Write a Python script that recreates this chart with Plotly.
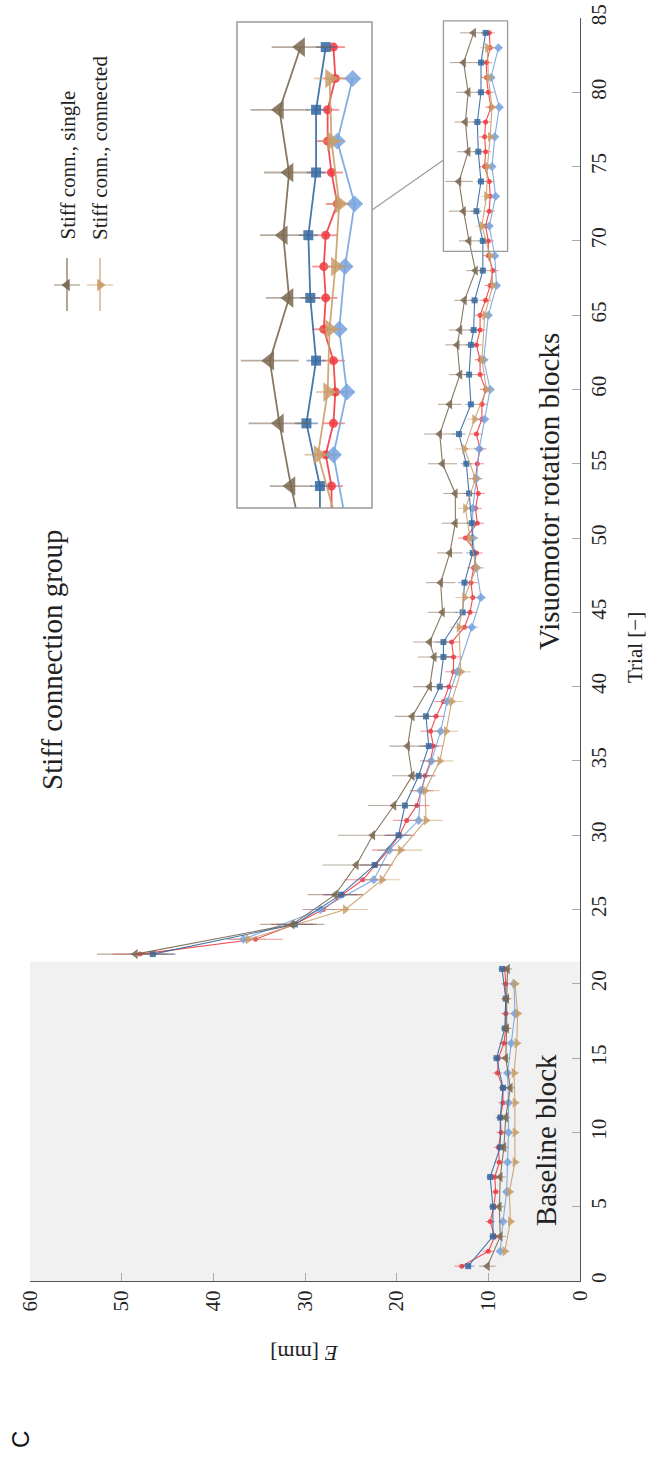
import plotly.graph_objects as go

W, H = 651, 1457

# ---------------- data ----------------
# four blocks of 21 trials (baseline 1-21, rotation blocks 22-42, 43-63, 64-84);
# "single" and "connected" trials alternate inside each block
single_trials = (list(range(1, 22, 2)) + list(range(22, 43, 2))
                 + list(range(43, 64, 2)) + list(range(64, 85, 2)))
connected_trials = (list(range(2, 21, 2)) + list(range(23, 42, 2))
                    + list(range(44, 63, 2)) + list(range(65, 84, 2)))
all_trials = list(range(1, 85))

# Stiff conn., single
stiff_single = [10.1, 8.7, 8.8, 8.7, 8.3, 8.1, 7.6, 8.1, 8.0, 8.0, 7.9,
                48.5, 31.4, 26.7, 24.4, 22.6, 20.3, 18.3, 18.8, 18.3, 16.4, 15.9,
                16.4, 15.0, 15.2, 14.2, 13.6, 13.6, 15.0, 15.3, 14.2, 13.1, 13.4,
                13.1, 12.6, 11.4, 12.1, 12.7, 13.2, 12.2, 12.5, 12.2, 12.7, 11.6]
stiff_single_err = [0.9, 0.6, 0.6, 0.6, 0.5, 0.5, 0.5, 0.5, 0.5, 0.5, 0.5,
                    4.2, 3.5, 3.0, 3.7, 3.8, 2.8, 2.2, 2.0, 1.9, 1.8, 1.8,
                    1.8, 1.6, 1.6, 1.4, 1.5, 1.3, 1.6, 1.7, 1.3, 1.2, 1.3,
                    1.2, 1.1, 1.0, 1.1, 1.6, 1.5, 1.2, 1.2, 1.3, 1.5, 1.5]

# Stiff conn., connected
stiff_conn = [8.2, 7.6, 7.7, 7.1, 7.1, 7.1, 7.2, 6.9, 6.8, 7.1,
              36.2, 25.6, 21.6, 19.6, 16.8, 16.9, 15.3, 14.6, 14.0, 13.0,
              13.2, 12.6, 11.3, 12.0, 12.5, 11.4, 12.6, 11.5, 10.2, 10.7,
              10.4, 9.5, 9.8, 10.7, 10.2, 10.1, 9.8, 9.6, 10.0, 10.1]
stiff_conn_err = [0.5, 0.5, 0.5, 0.5, 0.5, 0.5, 0.5, 0.5, 0.5, 0.5,
                  2.0, 2.5, 2.0, 2.4, 1.8, 1.6, 1.5, 1.3, 1.2, 1.1,
                  1.0, 1.0, 0.9, 0.9, 0.8, 0.8, 1.0, 0.8, 0.7, 0.7,
                  0.7, 0.6, 0.6, 0.7, 0.6, 0.6, 0.6, 0.6, 0.7, 0.8]

# square series (same trials as "single")
sq_vals = [12.2, 9.5, 9.5, 9.8, 8.7, 8.7, 8.4, 9.1, 8.2, 8.1, 8.5,
           46.6, 31.1, 26.1, 22.4, 19.8, 19.1, 17.6, 16.5, 16.8, 15.3, 14.9,
           14.9, 12.8, 12.6, 11.7, 11.8, 12.1, 12.4, 13.2, 11.9, 12.1, 11.9,
           11.6, 11.5, 10.6, 10.6, 11.3, 10.8, 11.1, 11.2, 10.8, 10.8, 10.3]
sq_err = [0.7, 0.4, 0.4, 0.4, 0.4, 0.4, 0.4, 0.4, 0.4, 0.4, 0.4,
          2.5, 2.0, 1.8, 1.6, 1.4, 1.3, 1.2, 1.1, 1.0, 0.9, 0.9,
          0.9, 0.8, 0.7, 0.7, 0.6, 0.6, 0.6, 0.7, 0.6, 0.6, 0.6,
          0.5, 0.5, 0.5, 0.5, 0.6, 0.5, 0.5, 0.5, 0.5, 0.5, 0.5]

# diamond series (same trials as "connected")
dia_vals = [8.7, 8.4, 8.0, 7.9, 7.8, 7.8, 7.9, 7.5, 7.1, 7.2,
            36.7, 28.3, 22.5, 20.8, 17.6, 17.4, 16.2, 15.2, 14.5, 13.4,
            11.8, 10.8, 11.3, 11.7, 11.7, 11.3, 11.0, 10.4, 9.8, 10.5,
            10.0, 9.1, 9.3, 9.9, 9.2, 9.6, 9.3, 8.8, 9.7, 8.9]
dia_err = [0.4, 0.4, 0.4, 0.4, 0.4, 0.4, 0.4, 0.4, 0.4, 0.4,
           1.8, 1.6, 1.4, 1.3, 1.1, 1.0, 1.0, 0.9, 0.8, 0.8,
           0.7, 0.6, 0.6, 0.6, 0.5, 0.5, 0.5, 0.5, 0.5, 0.5,
           0.4, 0.4, 0.4, 0.4, 0.4, 0.4, 0.4, 0.4, 0.4, 0.4]

# circle series (every trial)
circ_vals = [12.9, 10.0, 9.3, 9.8, 9.4, 9.2, 9.3, 8.8, 8.9, 8.6, 8.7,
             8.4, 8.4, 9.0, 8.9, 8.3, 8.1, 8.1, 8.1, 8.1, 8.2,
             48.0, 35.4, 31.2, 28.0, 25.9, 23.7, 22.3, 20.9, 19.7, 18.9, 17.8,
             17.3, 16.9, 16.3, 16.0, 16.3, 15.7, 14.9, 14.3, 13.8, 13.8,
             14.0, 12.6, 12.0, 11.7, 11.9, 11.6, 11.3, 12.5, 11.2, 11.4, 11.1,
             11.4, 11.2, 10.9, 11.3, 10.7, 10.7, 10.3, 10.9, 10.9, 11.3,
             10.9, 10.9, 10.3, 9.8, 9.5, 10.0, 10.0, 10.3, 9.9, 9.8, 9.9,
             10.4, 10.3, 10.4, 10.3, 9.7, 10.0, 10.2, 10.2, 9.8, 9.9]
circ_err = [0.8, 0.6, 0.5, 0.5, 0.5, 0.5, 0.5, 0.5, 0.5, 0.5, 0.5,
            0.5, 0.5, 0.5, 0.5, 0.5, 0.5, 0.5, 0.5, 0.5, 0.5,
            3.0, 3.0, 2.5, 2.3, 2.2, 2.0, 1.9, 1.8, 1.7, 1.5, 1.4,
            1.3, 1.2, 1.2, 1.1, 1.1, 1.0, 1.0, 0.9, 0.9, 0.9,
            0.9, 0.8, 0.8, 0.8, 0.8, 0.7, 0.7, 0.8, 0.7, 0.7, 0.7,
            0.7, 0.7, 0.7, 0.7, 0.6, 0.6, 0.6, 0.6, 0.6, 0.6,
            0.6, 0.6, 0.6, 0.6, 0.6, 0.6, 0.6, 0.6, 0.6, 0.6, 0.6,
            0.6, 0.6, 0.6, 0.6, 0.6, 0.6, 0.6, 0.6, 0.6, 0.6]

e_ticks = [0, 10, 20, 30, 40, 50, 60]
trial_ticks = [0, 5, 10, 15, 20, 25, 30, 35, 40, 45, 50, 55, 60, 65, 70, 75, 80, 85]
baseline_end = 21.5
zoom_e = (7.9, 14.9)
zoom_trial = (69.3, 84.8)

# ---------------- style ----------------
FONT = "Liberation Serif"
series = [
    # trials, values, errors, symbol, colour (r,g,b), main size, inset size
    (all_trials, circ_vals, circ_err, "circle", (240, 58, 64), 5, 9),
    (connected_trials, dia_vals, dia_err, "diamond", (120, 163, 222), 7, 13),
    (single_trials, sq_vals, sq_err, "square", (52, 104, 160), 6, 10),
    (connected_trials, stiff_conn, stiff_conn_err, "triangle-right", (200, 158, 106), 9, 17),
    (single_trials, stiff_single, stiff_single_err, "triangle-left", (123, 104, 80), 9, 17),
]


def rgba(c, a):
    return "rgba(%d,%d,%d,%.2f)" % (c[0], c[1], c[2], a)


def px_x(p):
    return p / W


def px_y(p):
    return 1 - p / H


fig = go.Figure()

for trials, vals, errs, sym, col, s_main, s_inset in series:
    for ax, size, lw in (("", s_main, 1.1), ("2", s_inset, 1.8)):
        # baseline block and rotation blocks drawn as separate line segments
        for lo, hi in ((0, baseline_end), (baseline_end, 100)):
            if ax == "2" and lo == 0:
                continue
            idx = [i for i, t in enumerate(trials) if lo < t < hi]
            fig.add_trace(go.Scatter(
                x=[vals[i] for i in idx], y=[trials[i] for i in idx],
                xaxis="x" + ax, yaxis="y" + ax,
                mode="lines+markers",
                line=dict(color=rgba(col, 0.9), width=lw),
                marker=dict(symbol=sym, size=size, color=rgba(col, 0.85),
                            line=dict(width=0)),
                error_x=dict(type="data", array=[errs[i] for i in idx],
                             color=rgba(col, 0.55), thickness=lw, width=0),
                showlegend=False, hoverinfo="skip",
            ))

# legend glyphs on a pixel-space helper axis
legend_items = [("Stiff conn., single", (123, 104, 80), "triangle-left", 67),
                ("Stiff conn., connected", (200, 158, 106), "triangle-right", 100)]
for label, col, sym, xc in legend_items:
    fig.add_trace(go.Scatter(x=[xc], y=[285], xaxis="x3", yaxis="y3", mode="markers",
                             marker=dict(symbol=sym, size=11, color=rgba(col, 0.95)),
                             showlegend=False, hoverinfo="skip"))
    fig.add_shape(type="line", xref="paper", yref="paper",
                  x0=px_x(xc), x1=px_x(xc), y0=px_y(258), y1=px_y(311),
                  line=dict(color=rgba(col, 0.9), width=1.3))
    fig.add_shape(type="line", xref="paper", yref="paper",
                  x0=px_x(xc - 13), x1=px_x(xc + 13), y0=px_y(285), y1=px_y(285),
                  line=dict(color=rgba(col, 0.6), width=1.3))
    fig.add_annotation(text=label, xref="paper", yref="paper", x=px_x(xc), y=px_y(242),
                       xanchor="center", yanchor="bottom", textangle=-90, showarrow=False,
                       font=dict(family=FONT, size=21, color="#222"))

# shaded baseline block
fig.add_shape(type="rect", xref="x", yref="y", x0=0, x1=60, y0=0, y1=baseline_end,
              fillcolor="#f1f1f1", line=dict(width=0), layer="below")

# zoom window, inset frame and connector
fig.add_shape(type="rect", xref="x", yref="y", x0=zoom_e[0], x1=zoom_e[1],
              y0=zoom_trial[0], y1=zoom_trial[1], line=dict(color="#9a9a9a", width=1.3))
ins_l, ins_r, ins_t, ins_b = 237, 372, 22, 508
fig.add_shape(type="rect", xref="paper", yref="paper", x0=px_x(ins_l), x1=px_x(ins_r),
              y0=px_y(ins_b), y1=px_y(ins_t), line=dict(color="#9a9a9a", width=1.5))
fig.add_shape(type="line", xref="paper", yref="paper", x0=px_x(ins_r), y0=px_y(210),
              x1=px_x(443.5), y1=px_y(160), line=dict(color="#9a9a9a", width=1.1))

# text
texts = [
    ("Stiff connection group", 52, 660, 29),
    ("Visuomotor rotation blocks", 549, 492, 29),
    ("Baseline block", 546, 1140, 29),
    ("Trial [−]", 635, 648, 21),
]
for t, xc, yc, fs in texts:
    fig.add_annotation(text=t, xref="paper", yref="paper", x=px_x(xc), y=px_y(yc),
                       xanchor="center", yanchor="middle", textangle=-90, showarrow=False,
                       font=dict(family=FONT, size=fs, color="#222"))
fig.add_annotation(text="<i>E</i> [mm]", xref="paper", yref="paper", x=px_x(305), y=px_y(1354),
                   xanchor="center", yanchor="middle", textangle=180, showarrow=False,
                   font=dict(family=FONT, size=22, color="#222"))
fig.add_annotation(text="C", xref="paper", yref="paper", x=px_x(20), y=px_y(1440),
                   xanchor="center", yanchor="middle", textangle=-90, showarrow=False,
                   font=dict(family="Liberation Sans", size=24, color="#111"))

axis_common = dict(showgrid=False, zeroline=False, automargin=False)
fig.update_layout(
    width=W, height=H, margin=dict(l=0, r=0, t=0, b=0, pad=0, autoexpand=False),
    paper_bgcolor="white", plot_bgcolor="rgba(0,0,0,0)",
    showlegend=False,
    xaxis=dict(domain=[px_x(30), px_x(580)], range=[60, 0], tickvals=e_ticks,
               ticks="inside", ticklen=8, tickcolor="#aaaaaa", tickwidth=1,
               showline=True, linecolor="#555555", linewidth=1.3,
               tickangle=-90, tickfont=dict(family=FONT, size=21, color="#222"),
               anchor="y", **axis_common),
    yaxis=dict(domain=[px_y(1281), px_y(18)], range=[0, 85], tickvals=trial_ticks,
               side="right", ticks="inside", ticklen=8, tickcolor="#aaaaaa", tickwidth=1,
               showline=True, linecolor="#555555", linewidth=1.3,
               tickangle=-90, tickfont=dict(family=FONT, size=21, color="#222"),
               anchor="x", **axis_common),
    xaxis2=dict(domain=[px_x(ins_l), px_x(ins_r)], range=[zoom_e[1], zoom_e[0]],
                visible=False, anchor="y2", **axis_common),
    yaxis2=dict(domain=[px_y(ins_b), px_y(ins_t)], range=list(zoom_trial),
                visible=False, anchor="x2", **axis_common),
    xaxis3=dict(domain=[0, 1], range=[0, W], visible=False, anchor="y3", **axis_common),
    yaxis3=dict(domain=[0, 1], range=[H, 0], visible=False, anchor="x3", **axis_common),
)

fig.write_html("out.html")
